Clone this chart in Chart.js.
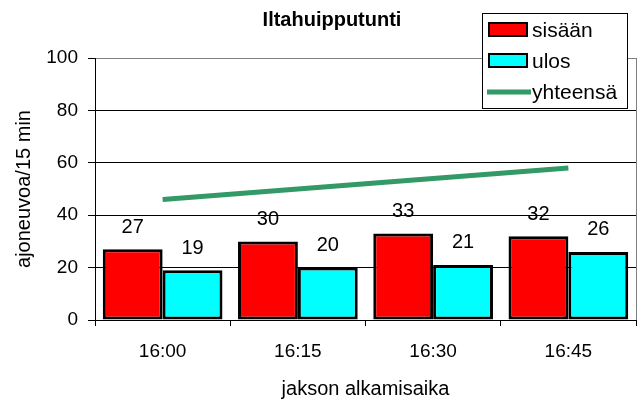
<!DOCTYPE html>
<html lang="fi">
<head>
    <meta charset="UTF-8">
    <title>Iltahuipputunti</title>
    <style>
        html, body { margin: 0; padding: 0; background: #fff; }
        #wrap { width: 637px; height: 402px; }
    </style>
</head>
<body>
<div id="wrap"><canvas id="peakChart" width="637" height="402"></canvas></div>

<script src="https://cdn.jsdelivr.net/npm/chart.js"></script>
<script>
    // data
    const categories = ['16:00', '16:15', '16:30', '16:45'];
    const sisaan = [27, 30, 33, 32];
    const ulos = [19, 20, 21, 26];
    const yhteensa = [46, 50, 54, 58];
    const yMin = 0, yMax = 100, yStep = 20;

    const FONT = "'Liberation Sans', Arial, sans-serif";

    // value labels above the bars
    const barLabels = {
        id: 'barLabels',
        afterDatasetsDraw(chart) {
            const ctx = chart.ctx;
            ctx.save();
            ctx.font = '20px ' + FONT;
            ctx.fillStyle = '#000';
            ctx.textAlign = 'center';
            ctx.textBaseline = 'middle';
            chart.data.datasets.forEach((d, di) => {
                if (d.type !== 'bar') return;
                const meta = chart.getDatasetMeta(di);
                meta.data.forEach((bar, i) => {
                    ctx.fillText(d.data[i], bar.x, bar.y - 22);
                });
            });
            ctx.restore();
        }
    };

    // gray right edge of plot, title, and the boxed legend
    const decorations = {
        id: 'decorations',
        beforeDatasetsDraw(chart) {
            const { ctx, chartArea } = chart;
            ctx.save();
            ctx.strokeStyle = '#808080';
            ctx.lineWidth = 1;
            ctx.beginPath();
            ctx.moveTo(chartArea.right + 0.5, chartArea.top);
            ctx.lineTo(chartArea.right + 0.5, chartArea.bottom);
            ctx.stroke();
            ctx.restore();
        },
        afterDraw(chart) {
            const ctx = chart.ctx;
            ctx.save();
            // title
            ctx.font = 'bold 20px ' + FONT;
            ctx.fillStyle = '#000';
            ctx.textAlign = 'center';
            ctx.textBaseline = 'middle';
            ctx.fillText('Iltahuipputunti', 332, 20);

            // legend box
            ctx.fillStyle = '#fff';
            ctx.fillRect(482, 13, 145, 95);
            ctx.strokeStyle = '#000';
            ctx.lineWidth = 1;
            ctx.strokeRect(482.5, 13.5, 145, 95);

            const rows = [30, 61, 92];
            ctx.font = '21px ' + FONT;
            ctx.textAlign = 'left';
            chart.data.datasets.forEach((d, i) => {
                const y = rows[i];
                if (d.type === 'line') {
                    ctx.strokeStyle = d.borderColor;
                    ctx.lineWidth = 5;
                    ctx.beginPath();
                    ctx.moveTo(487, y);
                    ctx.lineTo(531, y);
                    ctx.stroke();
                } else {
                    ctx.fillStyle = d.backgroundColor;
                    ctx.fillRect(489, y - 7, 38, 13);
                    ctx.strokeStyle = '#000';
                    ctx.lineWidth = 2;
                    ctx.strokeRect(489, y - 7, 38, 13);
                }
                ctx.fillStyle = '#000';
                ctx.fillText(d.label, 532, y + 1);
            });
            ctx.restore();
        }
    };

    const ctx = document.getElementById('peakChart').getContext('2d');
    const chart = new Chart(ctx, {
        data: {
            labels: categories,
            datasets: [
                {
                    type: 'bar',
                    label: 'sisään',
                    data: sisaan,
                    backgroundColor: '#ff0000',
                    borderColor: '#000',
                    borderWidth: 3,
                    borderSkipped: false,
                    categoryPercentage: 0.885,
                    barPercentage: 1,
                    order: 1
                },
                {
                    type: 'bar',
                    label: 'ulos',
                    data: ulos,
                    backgroundColor: '#00ffff',
                    borderColor: '#000',
                    borderWidth: 3,
                    borderSkipped: false,
                    categoryPercentage: 0.885,
                    barPercentage: 1,
                    order: 1
                },
                {
                    type: 'line',
                    label: 'yhteensä',
                    data: yhteensa,
                    borderColor: '#339966',
                    borderWidth: 5,
                    pointRadius: 0,
                    fill: false,
                    order: 0
                }
            ]
        },
        options: {
            responsive: false,
            animation: false,
            devicePixelRatio: 1,
            layout: { padding: { left: 12, right: 1, top: 58, bottom: 1 } },
            plugins: {
                legend: { display: false },
                title: { display: false },
                tooltip: { enabled: false }
            },
            scales: {
                x: {
                    offset: true,
                    grid: { offset: true, drawOnChartArea: false, color: '#000', tickLength: 6 },
                    border: { color: '#000', width: 1 },
                    ticks: { color: '#000', font: { family: FONT, size: 19 }, padding: 14, maxRotation: 0 },
                    title: { display: true, text: 'jakson alkamisaika', color: '#000', font: { family: FONT, size: 20 }, padding: 0 },
                    afterFit(scale) { scale.height = 81; }
                },
                y: {
                    min: yMin,
                    max: yMax,
                    ticks: { stepSize: yStep, color: '#000', font: { family: FONT, size: 19 }, padding: 10 },
                    grid: {
                        color: c => (c.tick && c.tick.value === yMax) ? '#808080' : '#000',
                        tickColor: '#000',
                        tickLength: 7
                    },
                    border: { color: '#000', width: 1 },
                    title: { display: true, text: 'ajoneuvoa/15 min', color: '#000', font: { family: FONT, size: 20 }, padding: 0 },
                    afterFit(scale) { scale.width = 83; }
                }
            }
        },
        plugins: [barLabels, decorations]
    });
</script>
</body>
</html>
